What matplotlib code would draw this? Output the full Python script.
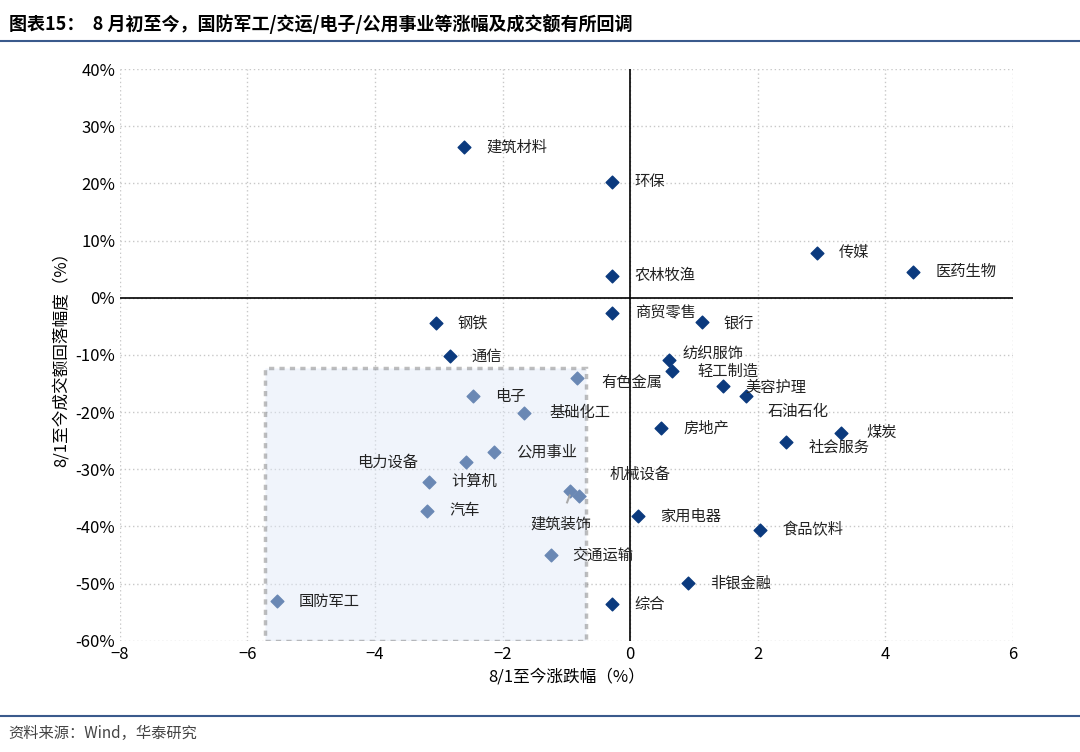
import matplotlib
matplotlib.use("Agg")
import matplotlib.pyplot as plt
from matplotlib.patches import Rectangle

plt.rcParams["font.family"] = ["Noto Sans CJK SC", "DejaVu Sans"]

names = ["建筑材料", "环保", "农林牧渔", "商贸零售", "传媒", "医药生物", "钢铁", "银行",
         "通信", "纺织服饰", "轻工制造", "有色金属", "美容护理", "石油石化", "电子",
         "基础化工", "房地产", "社会服务", "煤炭", "公用事业", "电力设备", "计算机",
         "机械设备", "建筑装饰", "汽车", "家用电器", "食品饮料", "交通运输", "非银金融",
         "国防军工", "综合"]
x_chg = [-2.61, -0.28, -0.28, -0.28, 2.92, 4.43, -3.05, 1.12,
         -2.83, 0.60, 0.66, -0.84, 1.45, 1.81, -2.47,
         -1.66, 0.48, 2.44, 3.31, -2.13, -2.58, -3.16,
         -0.81, -0.95, -3.18, 0.12, 2.04, -1.25, 0.90,
         -5.54, -0.29]
y_vol = [26.3, 20.3, 3.9, -2.6, 7.9, 4.6, -4.4, -4.2,
         -10.2, -10.9, -12.8, -14.0, -15.4, -17.2, -17.2,
         -20.1, -22.8, -25.2, -23.6, -27.0, -28.7, -32.2,
         -34.7, -33.8, -37.3, -38.2, -40.6, -45.0, -49.9,
         -53.1, -53.6]
# label offsets in points
offsets = {
    "有色金属": (18, -3), "机械设备": (22, 16), "建筑装饰": (-28, -24),
    "电力设备": (-78, 0), "社会服务": (16, -4), "煤炭": (18, 0),
    "美容护理": (16, -1), "石油石化": (16, -11), "纺织服饰": (10, 5),
    "轻工制造": (18, 0), "基础化工": (18, 0), "银行": (16, -2),
    "商贸零售": (16, 0), "交通运输": (16, 0),
}

fig = plt.figure(figsize=(10.8, 7.52), dpi=100)
ax = fig.add_axes([0.111, 0.148, 0.827, 0.76])

ax.scatter(x_chg, y_vol, marker="D", s=42, color="#0b3a7e", zorder=3)
ax.add_patch(Rectangle((-5.73, -60), 5.03, 47.7, facecolor="#dfe8f7", alpha=0.45,
                       edgecolor="#707070", linestyle=(0, (1.5, 1.5)), linewidth=2.5, zorder=4))

for n, x, y in zip(names, x_chg, y_vol):
    dx, dy = offsets.get(n, (16, 0))
    ax.annotate(n, (x, y), textcoords="offset points", xytext=(dx, dy),
                ha="left", va="center", fontsize=11, color="#222222", zorder=5)
ax.plot([-0.99, -0.95], [-35.8, -34.6], color="#aaaaaa", lw=1.5, zorder=5)

ax.set_xlim(-8, 6)
ax.set_ylim(-60, 40)
ax.set_xticks(range(-8, 7, 2))
ax.set_yticks(range(-60, 41, 10))
ax.set_yticklabels([f"{v}%" for v in range(-60, 41, 10)])
ax.grid(True, color="#c8c8c8", linestyle=(0, (1, 2)), linewidth=1)
ax.set_axisbelow(True)
for s in ax.spines.values():
    s.set_visible(False)
ax.axvline(0, color="black", lw=1.2, zorder=2)
ax.axhline(0, color="black", lw=1.2, zorder=2)
ax.tick_params(length=0, labelsize=12)
ax.set_xlabel("8/1至今涨跌幅（%）", fontsize=12)
ax.set_ylabel("8/1至今成交额回落幅度（%）", fontsize=12)

fig.text(0.008, 0.968, "图表15：  8 月初至今，国防军工/交运/电子/公用事业等涨幅及成交额有所回调",
         fontsize=13, fontweight="bold", va="center")
fig.add_artist(plt.Line2D([0, 1], [0.945, 0.945], color="#3a5a8c", lw=1.5))
fig.add_artist(plt.Line2D([0, 1], [0.048, 0.048], color="#3a5a8c", lw=1.5))
fig.text(0.008, 0.025, "资料来源：Wind，华泰研究", fontsize=11, color="#444444", va="center")

fig.savefig("out.png", dpi=100)
